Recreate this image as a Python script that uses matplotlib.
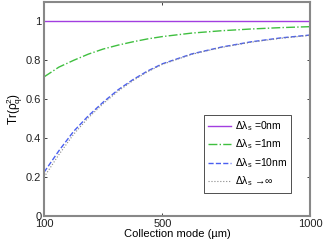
import matplotlib
matplotlib.use('Agg')
import matplotlib.pyplot as plt

plt.rcParams['font.family'] = ['Liberation Sans', 'DejaVu Sans']
plt.rcParams['mathtext.fontset'] = 'custom'
plt.rcParams['mathtext.rm'] = 'Liberation Sans'
plt.rcParams['mathtext.it'] = 'Liberation Sans:italic'

# collection mode (um)
mode = [100, 150, 200, 250, 300, 350, 400, 450, 500, 600, 700, 800, 900, 1000]

purity_0nm = [1, 1, 1, 1, 1, 1, 1, 1, 1, 1, 1, 1, 1, 1]
purity_1nm = [0.715, 0.765, 0.80, 0.832, 0.858, 0.878, 0.895, 0.91, 0.922, 0.94, 0.952, 0.961, 0.968, 0.973]
purity_10nm = [0.225, 0.335, 0.435, 0.515, 0.585, 0.648, 0.70, 0.745, 0.782, 0.833, 0.868, 0.895, 0.915, 0.93]
purity_inf = [0.20, 0.315, 0.42, 0.505, 0.577, 0.641, 0.695, 0.741, 0.779, 0.831, 0.866, 0.893, 0.913, 0.928]

labels = ['Δλ$_\\mathrm{s}$ =0nm', 'Δλ$_\\mathrm{s}$ =1nm', 'Δλ$_\\mathrm{s}$ =10nm', 'Δλ$_\\mathrm{s}$ →∞']

fig = plt.figure(figsize=(3.24, 2.43), dpi=100)
ax = fig.add_axes([0.136, 0.111, 0.821, 0.881])

ax.plot(mode, purity_0nm, color='#a23ee0', lw=1.0, ls='-', label=labels[0])
ax.plot(mode, purity_1nm, color='#3fbf3f', lw=1.0, ls='-.', label=labels[1])
ax.plot(mode, purity_10nm, color='#4a5ff0', lw=1.0, ls='--', label=labels[2])
ax.plot(mode, purity_inf, color='#888888', lw=0.8, ls=':', label=labels[3])

ax.set_xlim(100, 1000)
ax.set_ylim(0, 1.1)
ax.set_xticks([100, 500, 1000])
ax.set_yticks([0, 0.2, 0.4, 0.6, 0.8, 1])
ax.set_yticklabels(['0', '0.2', '0.4', '0.6', '0.8', '1'])
ax.tick_params(direction='in', top=True, right=True, length=2, width=0.6,
               labelsize=8, colors='#222222', pad=2)
for s in ax.spines.values():
    s.set_color('#888888')
    s.set_linewidth(1.5)

ax.set_xlabel('Collection mode (µm)', fontsize=8, labelpad=0)
ax.set_ylabel('Tr(ρ$^2_\\mathrm{q}$)', fontsize=8.5, labelpad=1)

leg = ax.legend(loc='lower left', bbox_to_anchor=(0.58, 0.085), fontsize=7.5,
                handlelength=2.2, handletextpad=0.4, borderpad=0.4,
                labelspacing=0.45, fancybox=False, framealpha=1)
leg.get_frame().set_edgecolor('#333333')
leg.get_frame().set_linewidth(0.6)

fig.savefig('out.png', dpi=100)
